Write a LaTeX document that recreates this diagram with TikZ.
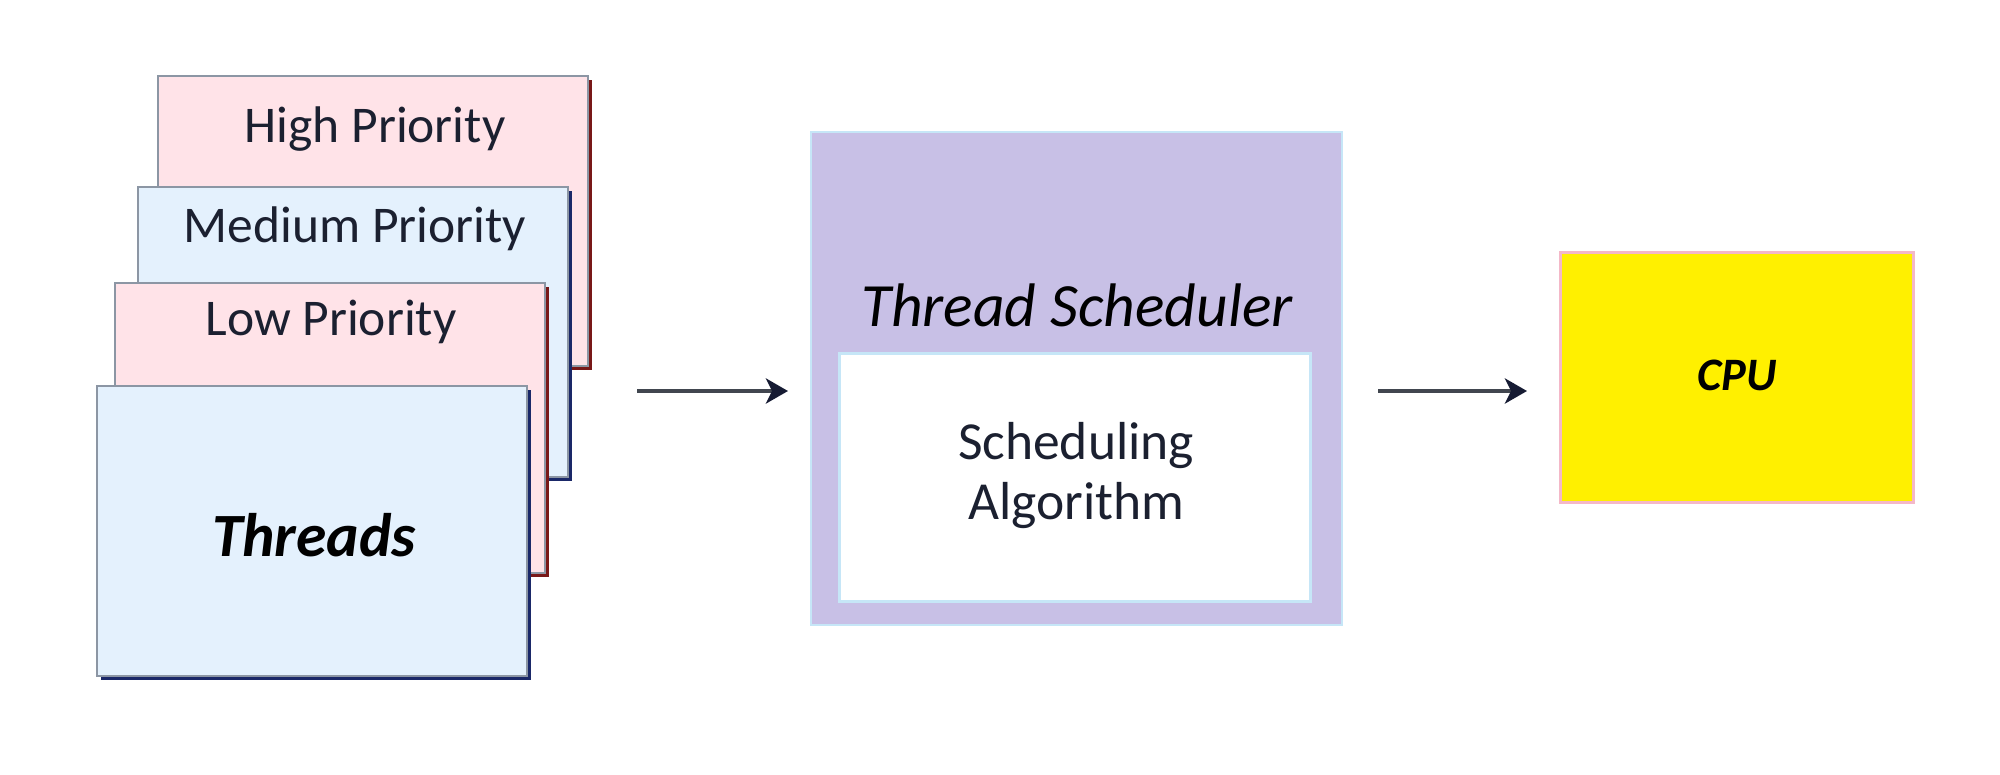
\documentclass[tikz,border=0pt]{standalone}
\usepackage{fontspec}
\setmainfont{Carlito}
\usetikzlibrary{arrows.meta,shadows}
\definecolor{pinkfill}{HTML}{FFE3E8}
\definecolor{bluefill}{HTML}{E4F1FD}
\definecolor{cardline}{HTML}{8C96A4}
\definecolor{redshadow}{HTML}{781818}
\definecolor{navyshadow}{HTML}{1A2868}
\definecolor{lavender}{HTML}{C8C0E6}
\definecolor{lightblueline}{HTML}{C6E6F7}
\definecolor{cpuyellow}{HTML}{FFF000}
\definecolor{cpuline}{HTML}{F4B8C8}
\definecolor{txt}{HTML}{1B2030}
\definecolor{arrline}{HTML}{41464F}
\definecolor{arrhead}{HTML}{161B33}
\begin{document}
\begin{tikzpicture}[x=1pt,y=-1pt,
  card/.style={draw=cardline, line width=1.5pt, rectangle, anchor=north west,
    minimum width=430pt, minimum height=290pt, inner sep=0pt},
  pinkcard/.style={card, fill=pinkfill,
    drop shadow={shadow xshift=4pt, shadow yshift=-4pt, fill=redshadow, opacity=1}},
  bluecard/.style={card, fill=bluefill,
    drop shadow={shadow xshift=4pt, shadow yshift=-4pt, fill=navyshadow, opacity=1}},
  lbl/.style={anchor=base, inner sep=0pt, text=txt, font=\fontsize{51.5}{60}\selectfont},
  arr/.style={draw=arrline, line width=4pt,
    -{Stealth[length=22pt, width=25pt, inset=6pt, fill=arrhead, color=arrhead]}},
]
\useasboundingbox[fill=white] (0,0) rectangle (2000,774);

% stacked cards
\node[pinkcard] (high) at (157,75) {};
\node[lbl] (thigh) at (375,142) {High Priority};
\node[bluecard] (medium) at (137,186) {};
\node[lbl] (tmedium) at (355,242) {Medium Priority};
\node[pinkcard] (low) at (114,282) {};
\node[lbl] (tlow) at (331,335) {Low Priority};
\node[bluecard] (threads) at (96,385) {};
\node[lbl, text=black, font=\fontsize{61.5}{70}\selectfont\bfseries\itshape] (tthreads) at (314,556) {Threads};

% scheduler
\node[rectangle, anchor=north west, fill=lavender, draw=lightblueline, line width=1.5pt,
  minimum width=531pt, minimum height=493pt, inner sep=0pt] (sched) at (810,131) {};
\node[lbl, text=black, font=\fontsize{61.5}{70}\selectfont\itshape] (tsched) at (1077,326) {Thread Scheduler};
\node[rectangle, anchor=north west, fill=white, draw=lightblueline, line width=3pt,
  minimum width=471pt, minimum height=248pt, inner sep=0pt] (algo) at (838,352) {};
\node[lbl, align=center, anchor=base, font=\fontsize{53.5}{60}\selectfont] (talgo) at (1076,519) {Scheduling\\Algorithm};

% cpu
\node[rectangle, anchor=north west, fill=cpuyellow, draw=cpuline, line width=3pt,
  minimum width=353pt, minimum height=250pt, inner sep=0pt] (cpu) at (1559,251) {};
\node[lbl, text=black, font=\fontsize{46.5}{54}\selectfont\bfseries\itshape] (tcpu) at (1737,390) {CPU};

% arrows
\coordinate (a1s) at (637,391);
\coordinate (a1e) at (788,391);
\coordinate (a2s) at (1378,391);
\coordinate (a2e) at (1527,391);
\draw[arr] (a1s) -- (a1e);
\draw[arr] (a2s) -- (a2e);
\end{tikzpicture}
\end{document}
